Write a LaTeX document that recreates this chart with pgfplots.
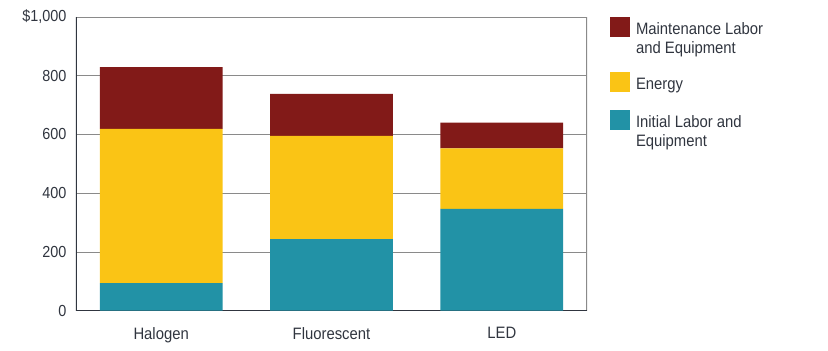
\documentclass[border=0pt]{standalone}
\usepackage{pgfplots}
\pgfplotsset{compat=1.18}
\usepackage{fontspec}
\setmainfont{Liberation Sans}[FakeStretch=0.9]
\newfontfamily\chartfont{Liberation Sans}[FakeStretch=0.9]
\definecolor{maint}{HTML}{821A18}
\definecolor{energy}{HTML}{FAC415}
\definecolor{initial}{HTML}{2292A6}
\definecolor{txt}{HTML}{30353F}
\definecolor{gridc}{HTML}{8A8A8A}
% legend images: square + invisible extent (height h, depth d) controlling row pitch
\pgfplotsset{
  sqA/.style={legend image code/.code={\fill[##1] (0pt,-2.4pt) rectangle (20pt,17.6pt); \path[draw=none,fill=none] (0pt,-4pt) -- (0pt,17.6pt);}},
  sqB/.style={legend image code/.code={\fill[##1] (0pt,-2.4pt) rectangle (20pt,17.6pt); \path[draw=none,fill=none] (0pt,-20.5pt) -- (0pt,17.6pt);}},
  blankA/.style={legend image code/.code={\path[draw=none,fill=none] (0pt,-18pt) -- (20pt,15.5pt);}},
  blankB/.style={legend image code/.code={\path[draw=none,fill=none] (0pt,-4pt) -- (20pt,15.5pt);}},
}
\begin{document}
\begin{tikzpicture}
\begin{axis}[
  at={(0,0)}, anchor=south west,
  scale only axis, width=511pt, height=293.7pt,
  ybar stacked, bar width=122.7pt,
  xmin=-0.5, xmax=2.5, ymin=0, ymax=1000,
  xtick={0,1,2}, xticklabels={Halogen,Fluorescent,LED},
  x tick style={draw=none},
  extra x ticks={0.5,1.5}, extra x tick labels={},
  extra x tick style={major tick length=7pt, tick style={draw=txt, line width=0.8pt}, grid=none},
  ytick={0,200,400,600,800,1000}, yticklabels={0,200,400,600,800,{\$1,000}},
  y tick style={draw=none},
  ymajorgrids, grid style={draw=gridc, line width=0.9pt},
  axis line style={draw=none},
  tick label style={font=\chartfont\fontsize{16}{19}\selectfont, text=txt},
  yticklabel style={xshift=-6pt},
  xticklabel style={font=\chartfont\fontsize{16.5}{19}\selectfont, yshift=-13pt},
  legend style={at={(rel axis cs:1,1)}, anchor=north west, xshift=23pt, yshift=0.3pt,
    draw=none, fill=none, inner sep=0pt, outer sep=0pt, row sep=0pt, column sep=0pt,
    font=\chartfont\fontsize{16.5}{20}\selectfont, text=txt,
    cells={anchor=base west},
    nodes={inner sep=0pt, outer sep=0pt, text=txt}},
  reverse legend,
]
\addlegendimage{blankB}
\addplot[fill=initial, draw=none, sqA] coordinates {(0,94) (1,244) (2,347)};
\addplot[fill=energy, draw=none, sqB] coordinates {(0,525) (1,351) (2,206)};
\addlegendimage{blankA}
\addplot[fill=maint, draw=none, sqA] coordinates {(0,210) (1,143) (2,87)};
\legend{\hspace{6pt}Equipment, \hspace{6pt}Initial Labor and, \hspace{6pt}Energy, \hspace{6pt}and Equipment, \hspace{6pt}Maintenance Labor}
\draw[txt, line width=1.5pt] (rel axis cs:0,1) -- (rel axis cs:0,0) -- (rel axis cs:1,0);
\draw[gridc, line width=1.2pt] (rel axis cs:1,0) -- (rel axis cs:1,1);
\end{axis}
\pgfresetboundingbox
\path[use as bounding box] (-76pt,-40.3pt) rectangle (752pt,310.7pt);
\end{tikzpicture}
\end{document}
